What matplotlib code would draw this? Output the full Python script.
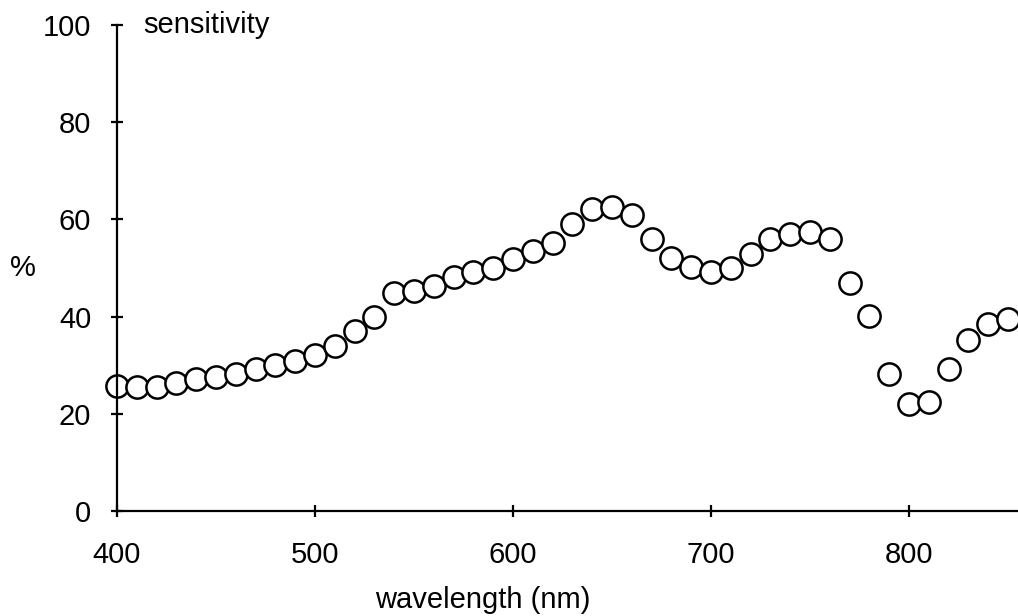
import matplotlib
matplotlib.use("Agg")
import matplotlib.pyplot as plt

plt.rcParams['font.family'] = ['Liberation Sans', 'DejaVu Sans']

# wavelength (nm) and sensitivity (%)
wavelength = [400, 410, 420, 430, 440, 450, 460, 470, 480, 490,
              500, 510, 520, 530, 540, 550, 560, 570, 580, 590,
              600, 610, 620, 630, 640, 650, 660, 670, 680, 690,
              700, 710, 720, 730, 740, 750, 760, 770, 780, 790,
              800, 810, 820, 830, 840, 850]
sensitivity = [25.7, 25.5, 25.5, 26.3, 27.2, 27.6, 28.2, 29.2, 30.0, 30.9,
               32.0, 34.0, 37.0, 40.0, 44.9, 45.3, 46.3, 48.1, 49.2, 50.0,
               51.9, 53.5, 55.1, 59.0, 62.1, 62.6, 60.9, 56.0, 52.0, 50.2,
               49.2, 50.0, 52.9, 56.0, 57.0, 57.4, 56.0, 46.9, 40.1, 28.2,
               22.0, 22.4, 29.2, 35.2, 38.5, 39.5]
xticks = [400, 500, 600, 700, 800]
yticks = [0, 20, 40, 60, 80, 100]

fs = 21
fig = plt.figure(figsize=(10.18, 6.16), dpi=100)
ax = fig.add_axes([117 / 1018, 105 / 616, 1 - 117 / 1018, 486 / 616])

ax.plot(wavelength, sensitivity, linestyle='none', marker='o', markersize=16,
        markerfacecolor='white', markeredgecolor='black', markeredgewidth=1.8,
        clip_on=False)

ax.set_xlim(400, 855)
ax.set_ylim(0, 100)
ax.set_xticks(xticks)
ax.set_yticks(yticks)
ax.spines['top'].set_visible(False)
ax.spines['right'].set_visible(False)
for s in ['left', 'bottom']:
    ax.spines[s].set_linewidth(1.6)
ax.tick_params(direction='inout', length=9, width=1.6, labelsize=fs)
ax.tick_params(axis='y', pad=14)
ax.tick_params(axis='x', pad=17)

fig.text(483 / 1018, 1 - 600 / 616, 'wavelength (nm)', fontsize=fs, va='center', ha='center')
fig.text(10 / 1018, 1 - 268 / 616, '%', fontsize=fs, va='center', ha='left')
fig.text(143 / 1018, 1 - 25 / 616, 'sensitivity', fontsize=fs, va='center', ha='left')

fig.savefig('out.png', dpi=100)
